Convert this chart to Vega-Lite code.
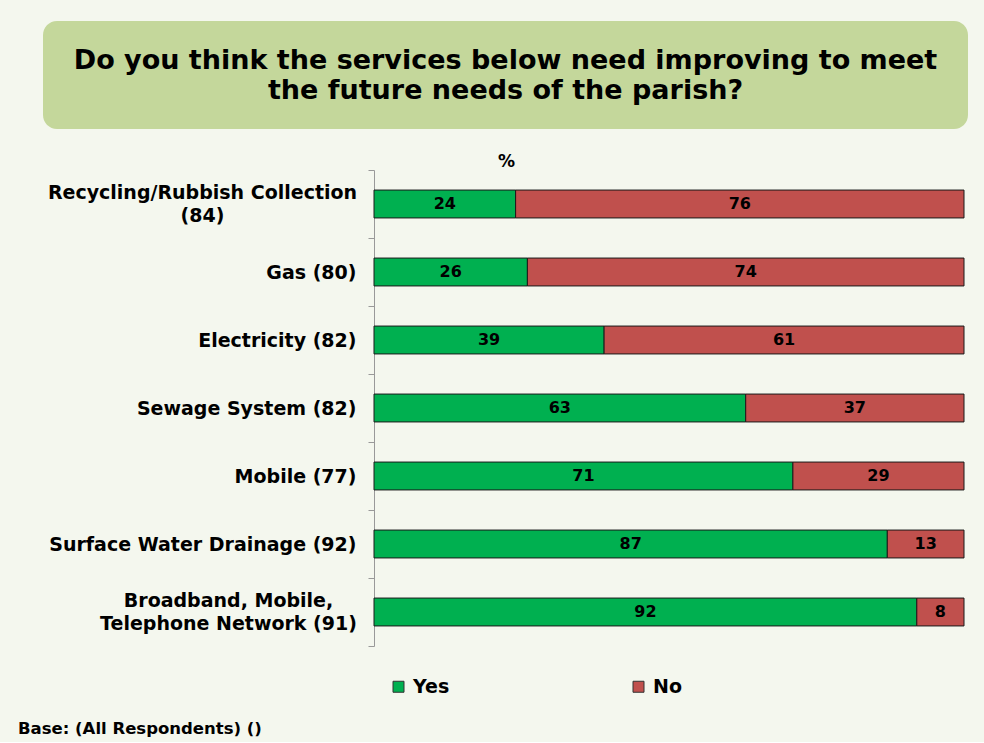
{
  "$schema": "https://vega.github.io/schema/vega-lite/v6.json",
  "background": "#f4f7ee",
  "padding": {"left": 18, "top": 21, "right": 16, "bottom": 4},
  "spacing": 23,
  "columns": 1,
  "align": "none",
  "bounds": "full",
  "resolve": {"legend": {"color": "independent"}, "scale": {"color": "independent"}},
  "config": {"font": "DejaVu Sans", "view": {"stroke": null}},
  "title": {
    "text": "Base: (All Respondents) ()",
    "orient": "bottom",
    "anchor": "start",
    "fontSize": 16.5,
    "fontWeight": "bold",
    "color": "#000000",
    "dx": -25,
    "offset": 24
  },
  "concat": [
    {
      "width": 925,
      "height": 108,
      "view": {"fill": "#c4d79b", "cornerRadius": 14, "stroke": null},
      "data": {"values": [{"heading": ["Do you think the services below need improving to meet", "the future needs of the parish?"]}]},
      "mark": {"type": "text", "fontSize": 27, "fontWeight": "bold", "lineHeight": 30, "color": "#000000", "align": "center", "baseline": "middle", "dy": -14},
      "encoding": {"text": {"field": "heading"}}
    },
    {
      "width": 921,
      "height": 476,
      "data": {
        "values": [
          {"service": "Recycling/Rubbish Collection (84)", "answer": "Yes", "value": 24},
          {"service": "Recycling/Rubbish Collection (84)", "answer": "No", "value": 76},
          {"service": "Gas (80)", "answer": "Yes", "value": 26},
          {"service": "Gas (80)", "answer": "No", "value": 74},
          {"service": "Electricity (82)", "answer": "Yes", "value": 39},
          {"service": "Electricity (82)", "answer": "No", "value": 61},
          {"service": "Sewage System (82)", "answer": "Yes", "value": 63},
          {"service": "Sewage System (82)", "answer": "No", "value": 37},
          {"service": "Mobile (77)", "answer": "Yes", "value": 71},
          {"service": "Mobile (77)", "answer": "No", "value": 29},
          {"service": "Surface Water Drainage (92)", "answer": "Yes", "value": 87},
          {"service": "Surface Water Drainage (92)", "answer": "No", "value": 13},
          {"service": "Broadband, Mobile, Telephone Network (91)", "answer": "Yes", "value": 92},
          {"service": "Broadband, Mobile, Telephone Network (91)", "answer": "No", "value": 8}
        ]
      },
      "encoding": {
        "y": {
          "field": "service",
          "type": "nominal",
          "sort": null,
          "scale": {"paddingInner": 0, "paddingOuter": 0},
          "axis": {
            "title": null,
            "offset": -331,
            "labelFontSize": 19,
            "labelFontWeight": "bold",
            "labelColor": "#000000",
            "labelLimit": 500,
            "labelLineHeight": 23,
            "labelAlign": {"condition": {"test": "datum.value == 'Recycling/Rubbish Collection (84)' || datum.value == 'Broadband, Mobile, Telephone Network (91)'", "value": "center"}, "value": "right"},
            "labelPadding": {"condition": [{"test": "datum.value == 'Recycling/Rubbish Collection (84)'", "value": 166}, {"test": "datum.value == 'Broadband, Mobile, Telephone Network (91)'", "value": 140}], "value": 12},
            "labelOffset": {"condition": {"test": "datum.value == 'Recycling/Rubbish Collection (84)' || datum.value == 'Broadband, Mobile, Telephone Network (91)'", "value": -11.5}, "value": 0},
            "tickBand": "extent",
            "tickSize": 6,
            "tickColor": "#999999",
            "domainColor": "#999999",
            "labelExpr": "datum.label == 'Recycling/Rubbish Collection (84)' ? ['Recycling/Rubbish Collection', '(84)'] : datum.label == 'Broadband, Mobile, Telephone Network (91)' ? ['Broadband, Mobile,', 'Telephone Network (91)'] : datum.label"
          }
        }
      },
      "layer": [
        {
          "mark": {"type": "bar", "height": {"band": 0.41}, "stroke": "#1a1a1a", "strokeWidth": 1},
          "encoding": {
            "x": {
              "field": "value",
              "type": "quantitative",
              "stack": "zero",
              "scale": {"domain": [0, 100], "range": [331, 921]},
              "axis": {
                "orient": "top",
                "labels": false,
                "ticks": false,
                "domain": false,
                "grid": false,
                "title": "%",
                "titleFontSize": 17,
                "titleFontWeight": "bold",
                "titleColor": "#000000",
                "titleX": 463,
                "titleY": -4,
                "titleAlign": "center",
                "titleBaseline": "alphabetic"
              }
            },
            "color": {
              "field": "answer",
              "type": "nominal",
              "scale": {"domain": ["Yes", "No"], "range": ["#00b050", "#c0504d"]},
              "legend": {
                "title": null,
                "orient": "none",
                "direction": "horizontal",
                "legendX": 346,
                "legendY": 507,
                "padding": 0,
                "symbolType": "square",
                "symbolSize": 121,
                "symbolStrokeColor": "#333333",
                "symbolStrokeWidth": 1,
                "symbolOpacity": 1,
                "labelFontSize": 19,
                "labelFontWeight": "bold",
                "labelColor": "#000000",
                "labelOffset": 5,
                "columnPadding": 179
              }
            },
            "order": {"field": "answer", "sort": "descending"}
          }
        },
        {
          "transform": [
            {"stack": "value", "groupby": ["service"], "sort": [{"field": "answer", "order": "descending"}], "as": ["v0", "v1"]},
            {"calculate": "(datum.v0 + datum.v1) / 2", "as": "mid"}
          ],
          "mark": {"type": "text", "fontSize": 16, "fontWeight": "bold", "color": "#000000"},
          "encoding": {
            "x": {"field": "mid", "type": "quantitative", "scale": {"domain": [0, 100], "range": [331, 921]}},
            "text": {"field": "value", "type": "quantitative"}
          }
        }
      ]
    }
  ]
}
